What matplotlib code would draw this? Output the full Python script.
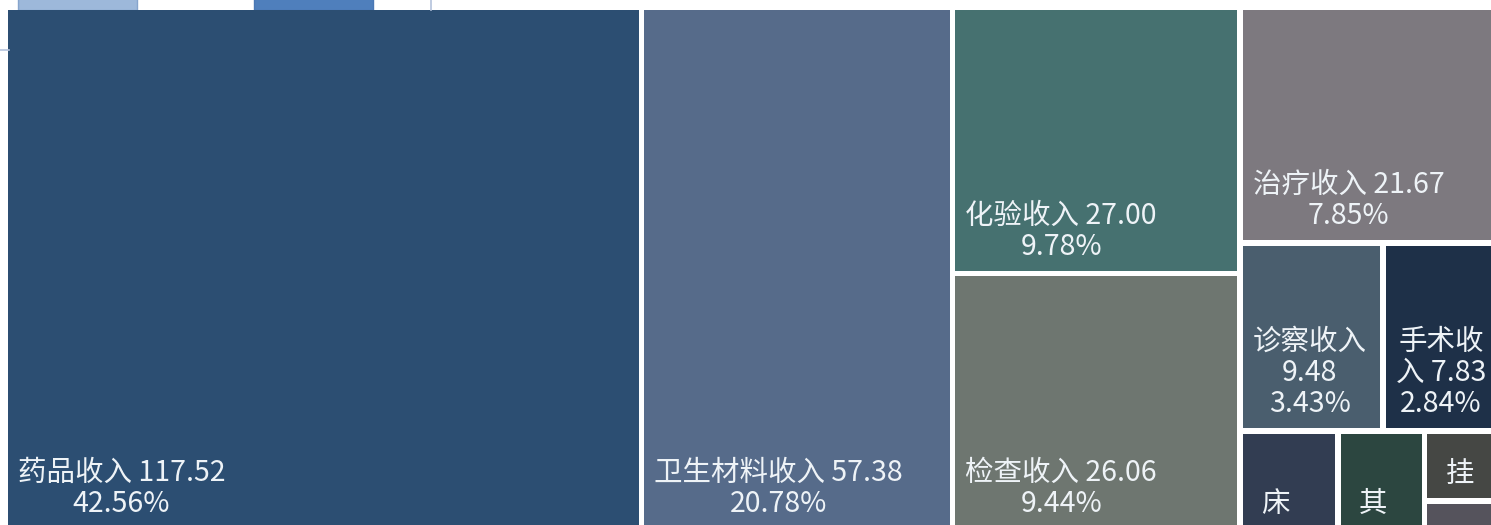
import matplotlib
matplotlib.use("Agg")
import matplotlib.pyplot as plt
from matplotlib.patches import Rectangle
from matplotlib.font_manager import FontProperties

plt.rcParams['font.family'] = ['Noto Sans CJK SC', 'DejaVu Sans']

# revenue items
names = ["药品收入", "卫生材料收入", "化验收入", "检查收入", "治疗收入",
         "诊察收入", "手术收入", "床位收入", "其他收入", "挂号收入", "护理收入"]
values = [117.52, 57.38, 27.00, 26.06, 21.67, 9.48, 7.83, 3.46, 3.04, 1.88, 0.81]
colors = ["#2c4e72", "#566b8a", "#467170", "#6e7670", "#7d797f",
          "#4a5e6e", "#1e3048", "#323d52", "#2c4640", "#454744", "#55535c"]


def worst(row, side):
    s = sum(row)
    return max(max(side * side * a / (s * s), s * s / (side * side * a)) for a in row)


def squarify(areas, x, y, w, h):
    rects = []
    i = 0
    while i < len(areas):
        side = min(w, h)
        row = [areas[i]]
        j = i + 1
        while j < len(areas) and worst(row + [areas[j]], side) <= worst(row, side):
            row.append(areas[j])
            j += 1
        s = sum(row)
        if w >= h:
            cw = s / h
            yy = y
            for a in row:
                rects.append((x, yy, cw, a / cw))
                yy += a / cw
            x += cw
            w -= cw
        else:
            rh = s / w
            xx = x
            for a in row:
                rects.append((xx, y, a / rh, rh))
                xx += a / rh
            y += rh
            h -= rh
        i = j
    return rects


W, H = 1491, 525
fig = plt.figure(figsize=(W / 100, H / 100), dpi=100)
ax = fig.add_axes([0, 0, 1, 1])
ax.set_xlim(0, W)
ax.set_ylim(H, 0)
ax.axis("off")

# bits of the surrounding UI that peek out above the chart
ax.add_patch(Rectangle((18, -2), 119, 12, facecolor="#9db8da", edgecolor="#86a4cc", lw=1))
ax.add_patch(Rectangle((254, -2), 119, 12, facecolor="#4f7fbc", edgecolor="#4a78b4", lw=1))
ax.plot([431, 431], [0, 10], color="#b4c2dc", lw=1.2)
ax.plot([0, 9], [50, 50], color="#b4c2dc", lw=1.2)

total = sum(values)
box_x, box_y, box_w, box_h = 5, 7, 1496, 524
areas = [v / total * box_w * box_h for v in values]
rects = squarify(areas, box_x, box_y, box_w, box_h)

gap = 2.8
prop = FontProperties(family=['Noto Sans CJK SC', 'DejaVu Sans'], size=20.5)
renderer = fig.canvas.get_renderer()


def text_w(s):
    return renderer.get_text_width_height_descent(s, prop, ismath=False)[0]


def wrap(s, avail):
    lines = []
    for word in s.split(" "):
        if lines and text_w(lines[-1] + " " + word) <= avail:
            lines[-1] += " " + word
            continue
        cur = ""
        for ch in word:
            if cur and text_w(cur + ch) > avail:
                lines.append(cur)
                cur = ch
            else:
                cur += ch
        if lines and text_w(lines[-1] + " " + cur) <= avail and len(lines[-1]) < len(word):
            lines[-1] += " " + cur
        else:
            lines.append(cur)
    return lines


for name, val, col, (x, y, w, h) in zip(names, values, colors, rects):
    r = Rectangle((x + gap, y + gap), w - 2 * gap, h - 2 * gap, facecolor=col, edgecolor="none")
    ax.add_patch(r)
    vw = w - 2 * gap
    if val < 1:
        continue
    if val < 5:
        label = name[0]
        tx = x + gap + 18
    else:
        lines = wrap(f"{name} {val:.2f}", vw - 16)
        label = "\n".join(lines + [f"{val / total * 100:.2f}%"])
        tx = x + gap + 10
    t = ax.text(tx, y + h - gap - 9, label, color="#eef3f7", fontproperties=prop,
                ha="left", va="bottom", multialignment="center", linespacing=1.05)
    t.set_clip_path(r)

fig.savefig("out.png", dpi=100)
